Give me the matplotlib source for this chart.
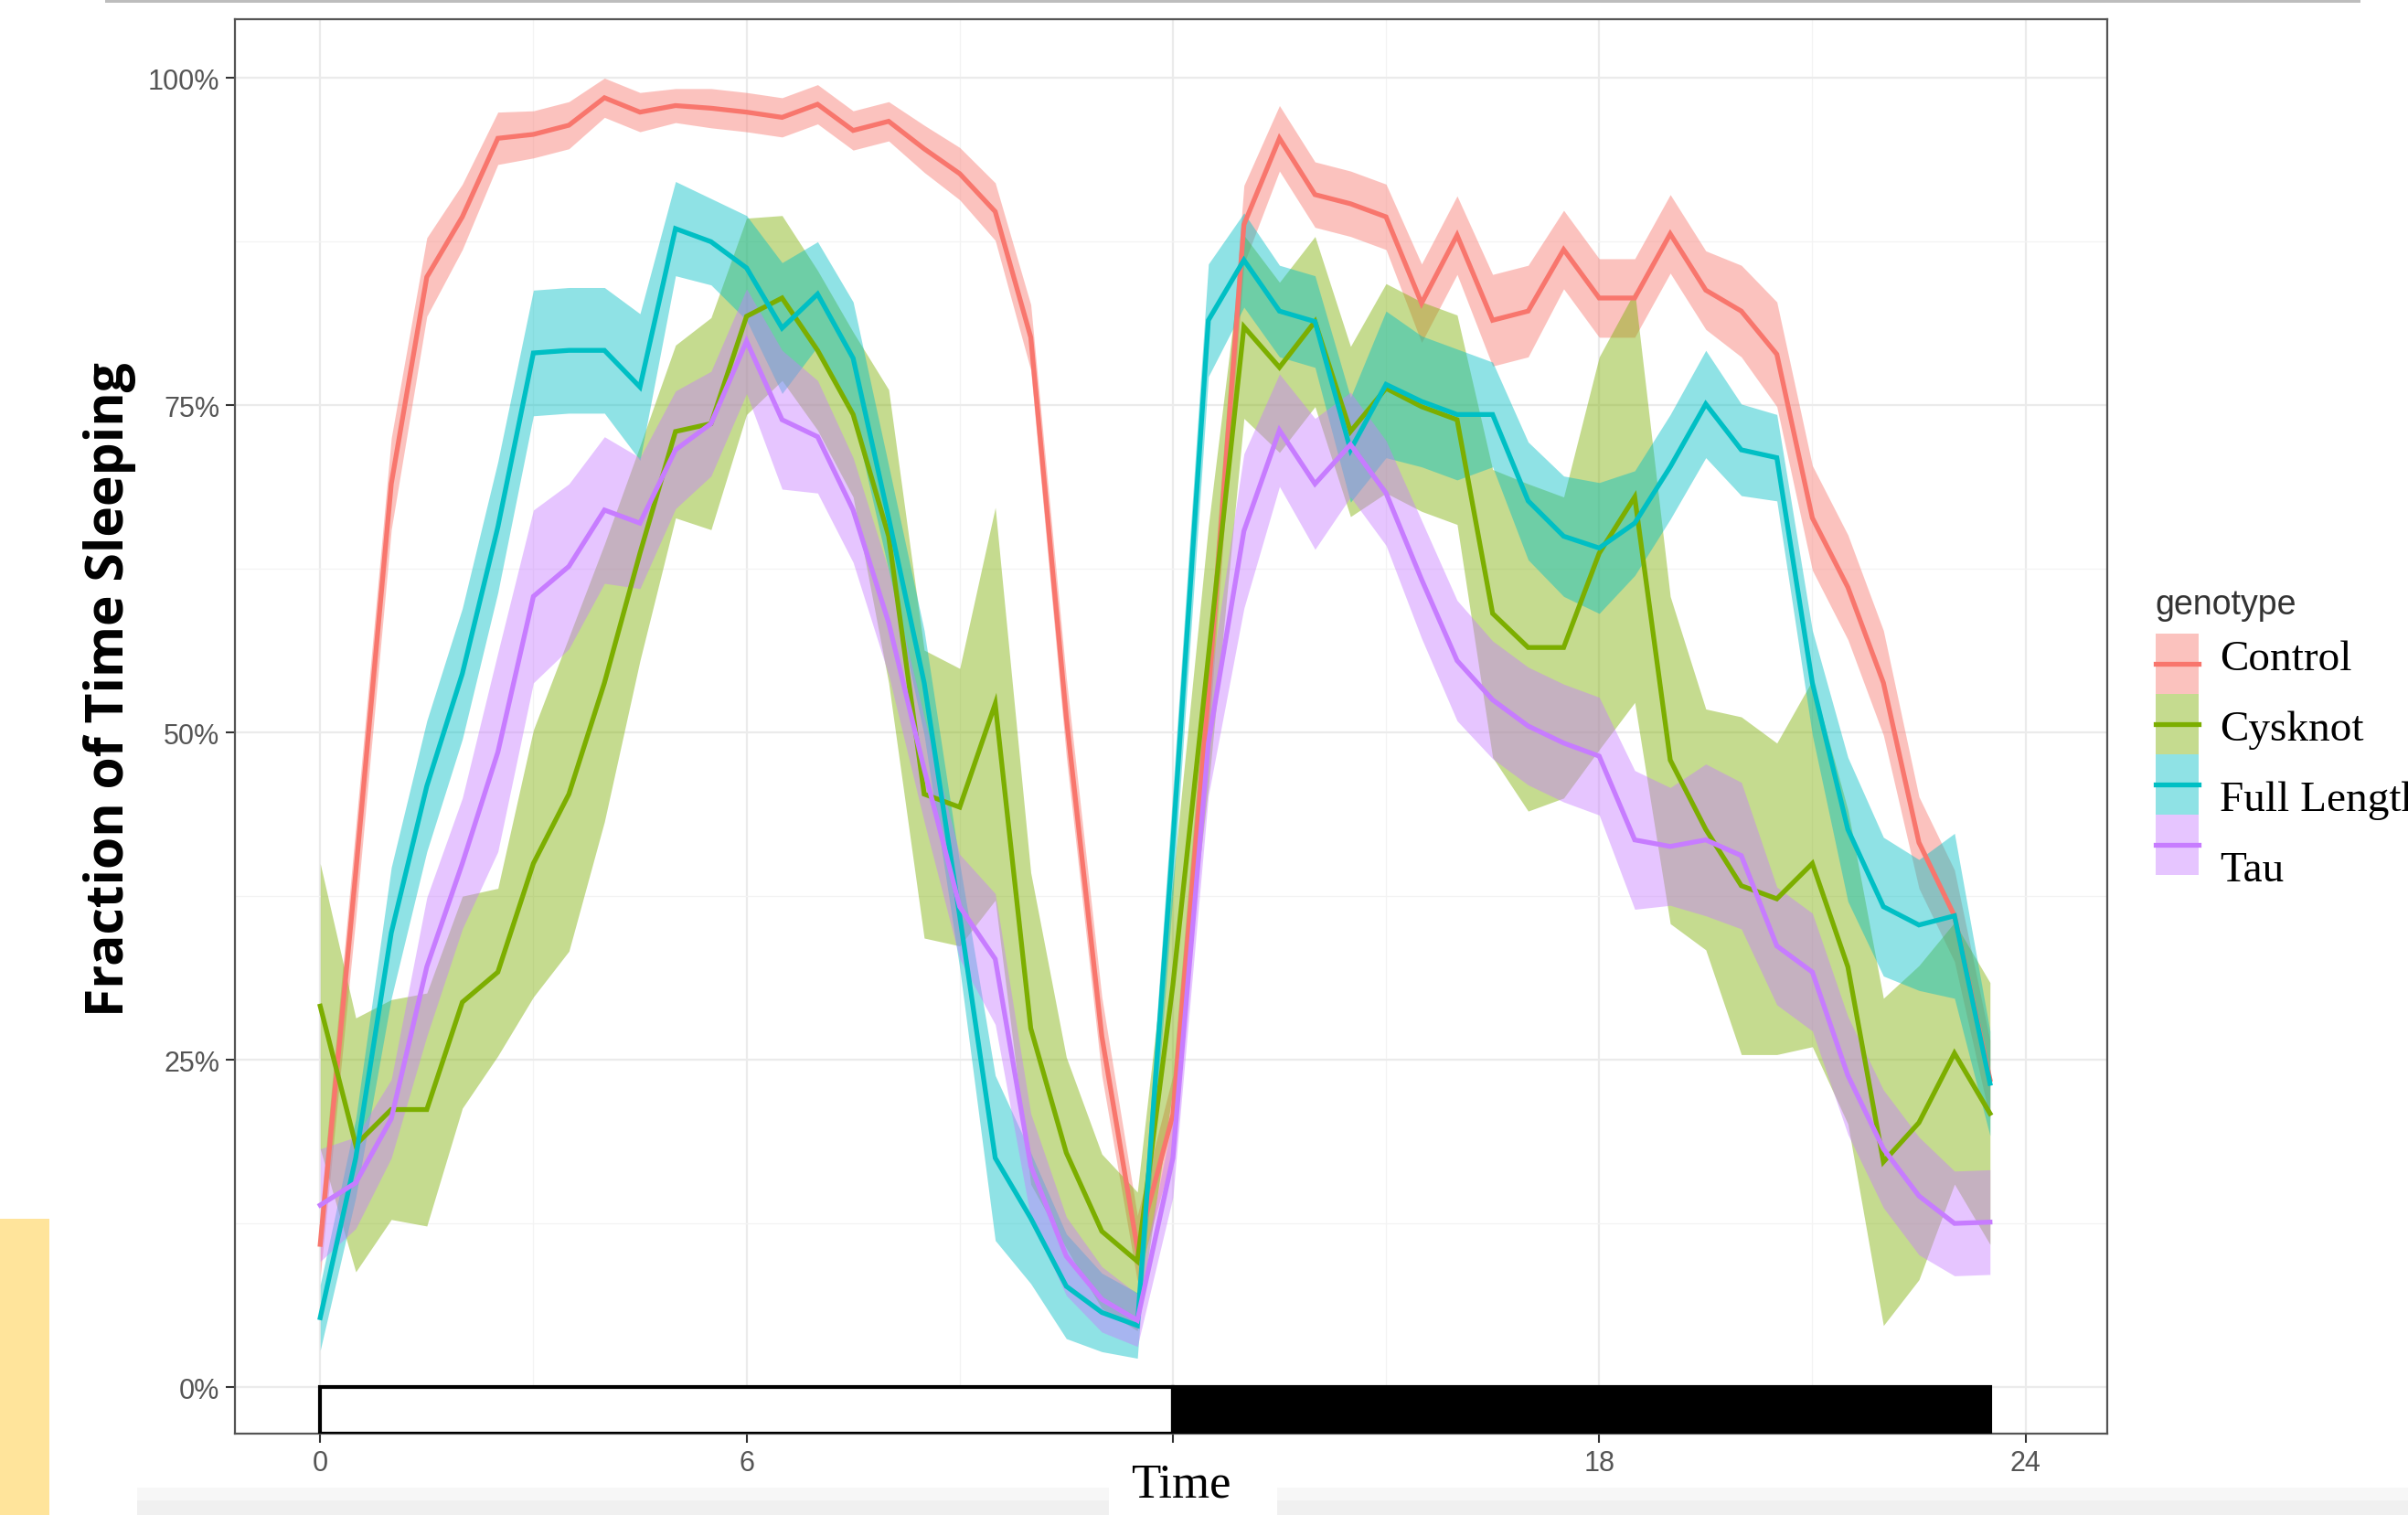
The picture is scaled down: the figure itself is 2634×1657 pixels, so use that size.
import numpy as np
import matplotlib
matplotlib.use("Agg")
import matplotlib.pyplot as plt
from matplotlib.patches import Rectangle
from matplotlib.lines import Line2D

W, H = 2634, 1658

# half hour bins over one day
hours = np.arange(48) * 0.5
genotypes = ["Control", "Cysknot", "Full Length", "Tau"]
colors = ["#F8766D", "#7CAE00", "#00BFC4", "#C77CFF"]

# mean % of time sleeping per bin
control = [10.9, 39.3, 69.0, 84.8, 89.4, 95.4, 95.7, 96.4, 98.5, 97.4, 97.9, 97.7,
           97.4, 97.0, 98.0, 96.0, 96.7, 94.6, 92.7, 89.8, 80.2, 51.2, 26.8, 10.6,
           20.8, 53.0, 88.8, 95.4, 91.1, 90.4, 89.4, 82.8, 88.0, 81.5, 82.2, 86.9,
           83.2, 83.2, 88.1, 83.8, 82.2, 78.9, 66.4, 61.1, 53.8, 41.6, 36.0, 23.5]
cysknot = [29.1, 18.5, 21.2, 21.2, 29.4, 31.7, 40.0, 45.3, 53.8, 63.7, 73.0, 73.6,
           81.8, 83.2, 79.2, 74.3, 65.0, 45.3, 44.3, 52.2, 27.4, 17.9, 11.9, 9.6,
           30.7, 55.8, 81.0, 77.9, 81.4, 73.0, 76.3, 74.9, 73.9, 59.1, 56.5, 56.5,
           63.7, 68.0, 47.9, 42.6, 38.3, 37.3, 40.0, 32.1, 17.2, 20.2, 25.5, 20.9]
full_length = [5.3, 17.5, 34.7, 45.9, 54.5, 65.7, 79.0, 79.2, 79.2, 76.4, 88.5, 87.5,
               85.5, 80.9, 83.5, 78.6, 66.4, 53.8, 36.0, 17.5, 12.9, 7.7, 5.7, 4.7,
               41.6, 81.5, 86.1, 82.2, 81.4, 71.6, 76.6, 75.3, 74.3, 74.3, 67.7, 65.0,
               64.1, 66.0, 70.3, 75.1, 71.6, 71.0, 53.8, 42.6, 36.7, 35.3, 36.0, 23.2]
tau = [13.9, 15.6, 20.5, 32.1, 40.0, 48.5, 60.4, 62.7, 67.0, 66.0, 71.6, 73.6,
       79.9, 73.9, 72.6, 67.0, 58.4, 47.2, 36.7, 32.7, 16.9, 10.0, 6.7, 5.1,
       17.5, 49.2, 65.4, 73.1, 69.0, 72.0, 68.3, 61.7, 55.5, 52.5, 50.5, 49.2,
       48.2, 41.8, 41.3, 41.8, 40.6, 33.7, 31.7, 23.8, 18.2, 14.6, 12.5, 12.6]

# ribbon half widths (se)
control_se = [2.5, 3.5, 3.5, 3.0, 2.5, 2.0, 1.8, 1.8, 1.5, 1.5, 1.3, 1.5,
              1.5, 1.5, 1.5, 1.5, 1.5, 1.8, 2.0, 2.2, 2.5, 3.0, 3.0, 2.5,
              3.0, 3.5, 3.0, 2.5, 2.5, 2.5, 2.5, 3.0, 3.0, 3.5, 3.5, 3.0,
              3.0, 3.0, 3.0, 3.0, 3.5, 4.0, 4.0, 4.0, 4.0, 3.5, 3.5, 3.0]
cysknot_se = [10.9, 9.7, 8.4, 8.9, 8.1, 6.4, 10.2, 12.0, 10.6, 8.2, 6.6, 8.1,
              7.5, 6.3, 6.1, 6.3, 11.2, 11.0, 10.6, 15.0, 11.9, 7.3, 5.9, 5.3,
              8.0, 10.0, 7.0, 6.5, 6.5, 6.5, 8.0, 8.0, 8.0, 11.0, 12.5, 11.5,
              15.0, 15.7, 12.5, 9.2, 12.9, 11.9, 14.0, 12.0, 12.5, 12.0, 10.0, 10.0]
full_length_se = [2.5, 3.0, 5.0, 5.0, 5.0, 5.0, 4.8, 4.8, 4.8, 5.6, 3.6, 3.3,
                  4.0, 5.0, 4.0, 4.3, 4.0, 4.0, 4.0, 6.3, 5.0, 4.0, 3.0, 2.5,
                  4.0, 4.3, 3.6, 3.5, 3.5, 4.0, 5.6, 5.0, 5.0, 4.0, 4.5, 4.6,
                  5.0, 4.0, 4.0, 4.1, 3.5, 3.3, 4.0, 5.5, 5.3, 5.0, 6.3, 4.0]
tau_se = [4.3, 3.5, 3.0, 5.3, 5.0, 7.6, 6.6, 6.3, 5.6, 5.0, 4.5, 4.0,
          4.0, 5.3, 4.3, 4.0, 4.0, 4.0, 4.0, 5.0, 4.0, 3.0, 2.5, 2.0,
          3.0, 4.0, 5.9, 4.3, 5.0, 4.0, 4.0, 4.5, 4.6, 4.5, 4.5, 4.5,
          4.5, 5.3, 4.5, 5.8, 5.6, 4.5, 4.5, 4.5, 4.5, 4.5, 4.0, 4.0]

means = [control, cysknot, full_length, tau]
ses = [control_se, cysknot_se, full_length_se, tau_se]

# light / dark bar
light_phase = [0, 12]
dark_phase = [12, 23.5]

x_ticks = [0, 6, 12, 18, 24]
x_tick_labels = ["0", "6", "", "18", "24"]  # 12 sits under the "Time" box
y_ticks = [0, 25, 50, 75, 100]

narrow = ["Liberation Sans Narrow", "Liberation Sans", "DejaVu Sans"]
serif = ["Liberation Serif", "DejaVu Serif"]


def fx(px):
    return px / W


def fy(py):
    return 1 - py / H


fig = plt.figure(figsize=(W / 100, H / 100), dpi=100)
fig.patch.set_facecolor("white")

ax = fig.add_axes([fx(257), fy(1569), (2305 - 257) / W, (1569 - 22) / H])
ylo = -3.56
ax.set_xlim(-1.2, 25.15)
ax.set_ylim(ylo, 104.5)

# ribbons first, then lines (ggplot order)
for m, s, c in zip(means, ses, colors):
    m = np.array(m)
    s = np.array(s)
    ax.fill_between(hours, m - s, m + s, color=c, alpha=0.44, lw=0, zorder=2)
for m, c in zip(means, colors):
    ax.plot(hours, m, color=c, lw=3.8, zorder=3, solid_joinstyle="miter")

ax.add_patch(Rectangle((light_phase[0], ylo), light_phase[1] - light_phase[0], -ylo,
                       facecolor="white", edgecolor="black", lw=3, zorder=4))
ax.add_patch(Rectangle((dark_phase[0], ylo), dark_phase[1] - dark_phase[0], -ylo,
                       facecolor="black", edgecolor="black", lw=3, zorder=4))

ax.set_xticks(x_ticks)
ax.set_xticklabels(x_tick_labels)
ax.set_yticks(y_ticks)
ax.set_yticklabels([f"{v}%" for v in y_ticks])
ax.set_xticks([3, 9, 15, 21], minor=True)
ax.set_yticks([12.5, 37.5, 62.5, 87.5], minor=True)
ax.tick_params(which="minor", length=0)
ax.tick_params(which="major", length=7, width=1.5, color="#333333",
               labelsize=22, labelcolor="#555555", pad=5)
for lab in ax.get_xticklabels() + ax.get_yticklabels():
    lab.set_family(narrow)
ax.grid(which="major", color="#EBEBEB", lw=1.6)
ax.grid(which="minor", color="#F3F3F3", lw=0.9)
ax.set_axisbelow(True)
for sp in ax.spines.values():
    sp.set_color("#555555")
    sp.set_linewidth(1.6)

# y label
fig.text(fx(120), fy(754), "Fraction of Time Sleeping", rotation=90, ha="center",
         va="center", fontsize=41, fontweight="bold", family=["Open Sans", "DejaVu Sans"])

# legend drawn by hand
fig.text(fx(2357), fy(662), "genotype", ha="left", va="center", fontsize=27,
         color="#333333", family=narrow)
for i, (name, c) in enumerate(zip(genotypes, colors)):
    top = 694 + i * 66
    fig.patches.append(Rectangle((fx(2358), fy(top + 66)), 47 / W, 66 / H,
                                 transform=fig.transFigure, facecolor=c, alpha=0.44,
                                 edgecolor="none"))
    fig.lines.append(Line2D([fx(2358), fx(2405)], [fy(top + 33), fy(top + 33)],
                            transform=fig.transFigure, color=c, lw=3.8))
    fig.text(fx(2428), fy(722 + i * 77), name, ha="left", va="center",
             fontsize=34, color="black", family=serif)

# screenshot leftovers: top rule, yellow block, grey strip at bottom
fig.patches.append(Rectangle((fx(115), fy(4)), (2582 - 115) / W, 4 / H,
                             transform=fig.transFigure, facecolor="#BDBDBD",
                             edgecolor="none"))
fig.patches.append(Rectangle((0, 0), fx(54), (H - 1334) / H, transform=fig.transFigure,
                             facecolor="#FFE49B", edgecolor="none"))
fig.patches.append(Rectangle((fx(150), 0), (W - 150) / W, (H - 1628) / H,
                             transform=fig.transFigure, facecolor="#F7F7F7",
                             edgecolor="none"))
fig.patches.append(Rectangle((fx(150), 0), (W - 150) / W, (H - 1642) / H,
                             transform=fig.transFigure, facecolor="#F0F0F0",
                             edgecolor="none"))
fig.patches.append(Rectangle((fx(1213), 0), (1397 - 1213) / W, (H - 1583) / H,
                             transform=fig.transFigure, facecolor="white",
                             edgecolor="none", zorder=5))
fig.text(fx(1292), fy(1625), "Time", ha="center", va="center", fontsize=38,
         color="black", family=serif, zorder=6)

fig.savefig("out.png", dpi=100)
